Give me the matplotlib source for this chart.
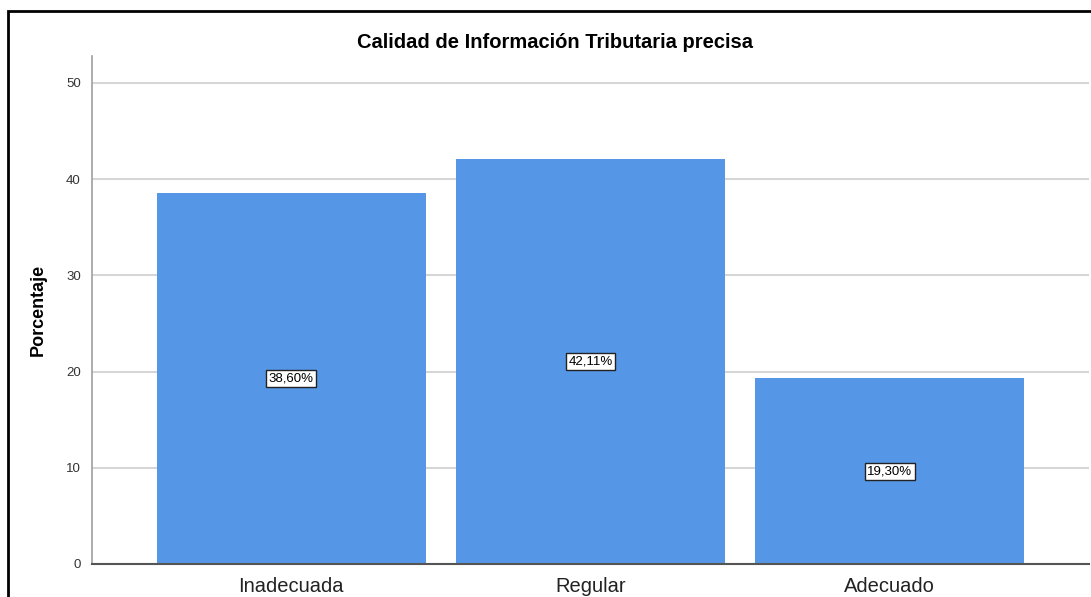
import matplotlib.pyplot as plt
from matplotlib.patches import Rectangle

categories = ['Inadecuada', 'Regular', 'Adecuado']
percentages = [38.60, 42.11, 19.30]
bar_labels = ['38,60%', '42,11%', '19,30%']

plt.rcParams['font.family'] = ['Liberation Sans', 'DejaVu Sans']

fig = plt.figure(figsize=(10.91, 5.97), dpi=100)
ax = fig.add_axes([92 / 1091, 1 - 564 / 597, 997 / 1091, 508 / 597])

x = range(len(categories))
ax.bar(x, percentages, width=0.898, color='#5596e6', zorder=2)

# value boxes in the middle of each bar
for i, (v, lab) in enumerate(zip(percentages, bar_labels)):
    ax.text(i, v / 2, lab, ha='center', va='center', fontsize=9.5, zorder=3,
            bbox=dict(boxstyle='square,pad=0.2', fc='white', ec='#222222', lw=1))

ax.set_xlim(-0.666, 2.666)
ax.set_ylim(0, 52.8)
ax.set_yticks([0, 10, 20, 30, 40, 50])
ax.set_xticks(list(x))
ax.set_xticklabels(categories, fontsize=14.5, color='#222222')
ax.tick_params(axis='x', length=0, pad=9)
ax.tick_params(axis='y', length=0, labelsize=9.5, labelcolor='#333333', pad=8)
ax.yaxis.grid(True, color='#d6d6d6', lw=1.5, zorder=1)
ax.set_axisbelow(True)

for s in ['top', 'right']:
    ax.spines[s].set_visible(False)
ax.spines['left'].set_color('#a0a0a0')
ax.spines['left'].set_linewidth(1.2)
ax.spines['bottom'].set_color('#555555')
ax.spines['bottom'].set_linewidth(1.5)

ax.set_ylabel('Porcentaje', fontsize=13, fontweight='bold', labelpad=14)
fig.text(555 / 1091, 1 - 43 / 597, 'Calidad de Información Tributaria precisa',
         ha='center', va='center', fontsize=14.5, fontweight='bold')

# document frame around the chart
fig.patches.append(Rectangle((8 / 1091, -0.05), 1.1, 1.05 - 11 / 597,
                             transform=fig.transFigure, fill=False,
                             ec='black', lw=2, clip_on=False))

fig.savefig('out.png', dpi=100)
